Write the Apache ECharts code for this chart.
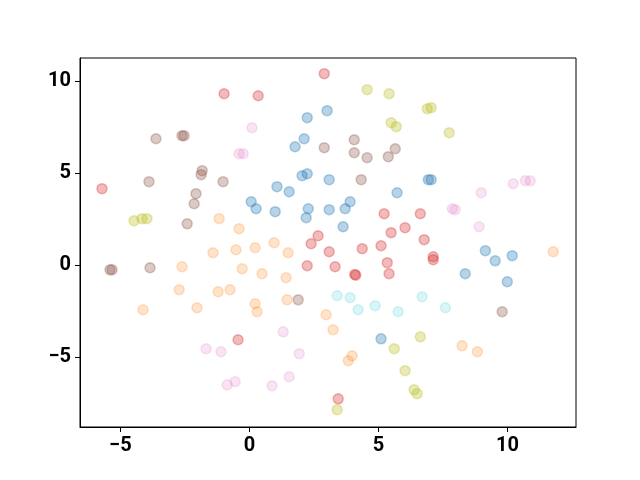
<!DOCTYPE html>
<html>
<head>
<meta charset="utf-8">
<script src="https://cdn.jsdelivr.net/npm/echarts@6/dist/echarts.min.js"></script>
<style>
html,body{margin:0;padding:0;background:#fff;}
#c{width:640px;height:480px;}
</style>
</head>
<body>
<div id="c"></div>
<script>
// Tick labels
const xTicks = [-5, 0, 5, 10];
const yTicks = [-5, 0, 5, 10];

// Cluster points [x, y]
const blue = [[3.01,8.39],[2.24,8.01],[2.12,6.86],[1.77,6.43],[2.04,4.85],[2.24,4.96],[3.09,4.64],[1.07,4.26],[1.54,3.98],[5.72,3.93],[0.07,3.44],[0.26,3.06],[1.00,2.90],[2.28,3.06],[2.20,2.57],[3.09,3.01],[3.90,3.44],[3.71,3.06],[3.63,2.08],[6.93,4.64],[7.04,4.64],[9.14,0.78],[9.52,0.23],[10.18,0.51],[8.36,-0.47],[9.99,-0.91],[5.10,-4.01]];
const orange = [[-1.17,2.52],[-0.40,1.97],[-1.41,0.67],[-0.52,0.83],[-2.61,-0.09],[-0.28,-0.20],[-2.72,-1.34],[-1.21,-1.45],[-0.75,-1.34],[-4.12,-2.43],[-2.03,-2.32],[0.22,0.94],[0.96,1.21],[1.50,0.67],[0.49,-0.47],[1.42,-0.69],[1.46,-1.89],[0.22,-2.10],[0.30,-2.54],[2.97,-2.70],[3.24,-3.52],[3.98,-4.93],[3.83,-5.20],[11.77,0.72],[8.24,-4.39],[8.83,-4.71]];
const red = [[-0.98,9.31],[2.90,10.40],[0.34,9.20],[-5.71,4.15],[5.22,2.79],[6.62,2.79],[5.49,1.76],[6.03,2.03],[2.66,1.59],[2.39,1.16],[3.09,0.72],[4.37,0.89],[5.10,1.05],[5.34,0.13],[5.41,-0.47],[2.24,-0.04],[3.32,-0.09],[4.08,-0.51],[4.12,-0.55],[6.77,1.38],[7.12,0.45],[7.12,0.29],[-0.44,-4.06],[3.44,-7.27]];
const brown = [[-3.62,6.86],[-2.61,7.03],[-2.53,7.03],[-1.83,5.13],[-1.87,4.91],[-3.89,4.53],[-1.02,4.53],[-2.07,3.88],[-2.14,3.33],[-2.41,2.24],[-5.40,-0.26],[-5.32,-0.26],[-3.85,-0.15],[2.90,6.38],[4.06,6.81],[4.06,6.10],[4.56,5.83],[5.38,5.89],[5.65,6.32],[4.33,4.64],[1.89,-1.89],[9.79,-2.54]];
const pink = [[0.10,7.46],[-0.40,6.05],[-0.24,6.05],[8.98,3.93],[7.86,3.06],[7.97,3.01],[8.90,2.08],[10.22,4.42],[10.69,4.58],[10.88,4.58],[-1.68,-4.55],[-1.10,-4.71],[-0.86,-6.51],[-0.55,-6.34],[0.88,-6.56],[1.54,-6.07],[1.93,-4.82],[1.31,-3.63]];
const olive = [[4.56,9.53],[5.41,9.31],[5.49,7.73],[5.69,7.52],[6.89,8.49],[7.04,8.55],[7.74,7.19],[-4.47,2.41],[-4.16,2.52],[-3.97,2.52],[5.61,-4.55],[6.03,-5.74],[6.38,-6.78],[6.50,-6.99],[6.62,-3.90],[3.40,-7.86]];
const cyan = [[3.40,-1.67],[3.90,-1.78],[4.21,-2.43],[4.87,-2.21],[5.76,-2.54],[6.69,-1.72],[7.59,-2.32]];

const groups = [
  {data: blue,   rgb: '31,119,180',  a: 0.32},
  {data: orange, rgb: '255,127,14',  a: 0.22},
  {data: red,    rgb: '214,39,40',   a: 0.32},
  {data: brown,  rgb: '140,86,75',   a: 0.32},
  {data: pink,   rgb: '227,119,194', a: 0.2},
  {data: olive,  rgb: '188,189,34',  a: 0.32},
  {data: cyan,   rgb: '23,190,207',  a: 0.16}
];

const fmt = v => String(v).replace('-', '\u2212');
const labelStyle = {
  fontFamily: 'Roboto', fontWeight: 'bold', fontSize: 20, color: '#000', formatter: fmt
};

const chart = echarts.init(document.getElementById('c'), null, {renderer: 'canvas'});
chart.setOption({
  animation: false,
  backgroundColor: '#fff',
  grid: {left: 80, top: 58, width: 496, height: 369, show: true, borderColor: '#000', borderWidth: 1, backgroundColor: 'transparent'},
  xAxis: {
    type: 'value', min: -6.562, max: 12.651,
    axisLine: {show: true, onZero: false, lineStyle: {color: '#000', width: 1}},
    axisTick: {show: true, inside: false, length: 5, customValues: xTicks, lineStyle: {color: '#000', width: 1}},
    axisLabel: Object.assign({margin: 9, customValues: xTicks}, labelStyle),
    splitLine: {show: false}
  },
  yAxis: {
    type: 'value', min: -8.80, max: 11.25,
    axisLine: {show: true, onZero: false, lineStyle: {color: '#000', width: 1}},
    axisTick: {show: true, inside: false, length: 5, customValues: yTicks, lineStyle: {color: '#000', width: 1}},
    axisLabel: Object.assign({margin: 9, customValues: yTicks}, labelStyle),
    splitLine: {show: false}
  },
  series: groups.map(g => ({
    type: 'scatter',
    data: g.data,
    symbol: 'circle',
    symbolSize: 10,
    itemStyle: {color: 'rgba(' + g.rgb + ',' + g.a + ')', borderColor: 'rgba(' + g.rgb + ',' + g.a + ')', borderWidth: 1.5, opacity: 1},
    emphasis: {disabled: true}
  }))
});
</script>
</body>
</html>
